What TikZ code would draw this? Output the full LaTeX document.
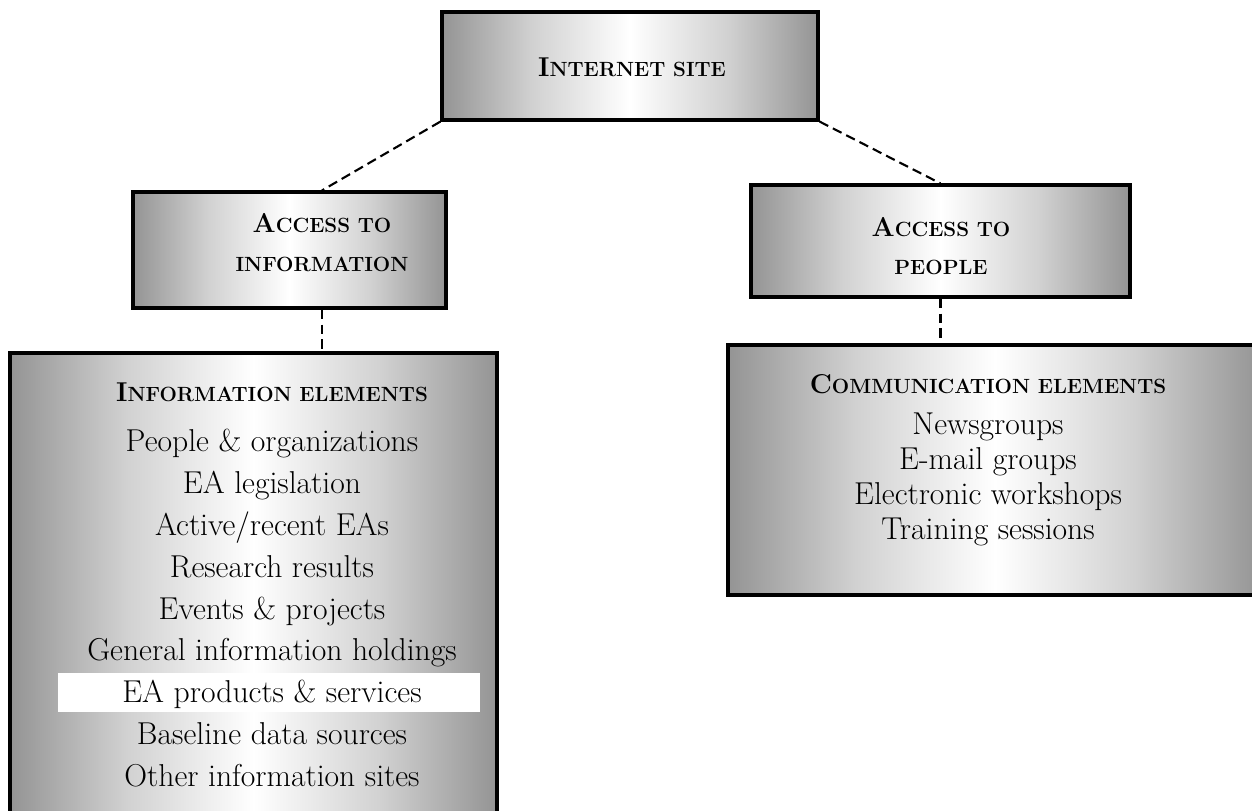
\documentclass[tikz,border=0pt]{standalone}
\usepackage{xcolor}

% grey at both sides, white in the middle
\pgfdeclarehorizontalshading{boxshade}{100bp}{color(0bp)=(black!42); color(25bp)=(black!42); color(37bp)=(black!18); color(50bp)=(white); color(63bp)=(black!18); color(75bp)=(black!42); color(100bp)=(black!42)}

% bold caps with a taller first letter
\newcommand{\capsc}[2]{{\bfseries\fontsize{15.5}{16}\selectfont #1}{\bfseries\fontsize{11.7}{16}\selectfont #2}}

\begin{document}
\begin{tikzpicture}[
  box/.style={draw=black, line width=1.8pt, shading=boxshade, inner sep=0pt},
  link/.style={dashed, dash pattern=on 5.5pt off 3pt, line width=1.2pt},
  head/.style={align=center, font=\fontsize{14}{22}\selectfont},
  items/.style={align=center, font=\fontsize{18}{23.8}\selectfont}
]
\useasboundingbox (0,0) rectangle (25.04,-16.2);

% boxes
\node [box, minimum width=7.52cm, minimum height=2.16cm] (site) at (12.6,-1.32) {};
\node [box, minimum width=6.26cm, minimum height=2.32cm] (accinfo) at (5.79,-5.0) {};
\node [box, minimum width=7.58cm, minimum height=2.24cm] (accpeople) at (18.81,-4.82) {};
\node [box, minimum width=9.74cm, minimum height=9.54cm] (infoel) at (5.07,-11.83) {};
\node [box, minimum width=10.68cm, minimum height=5.0cm] (commel) at (19.9,-9.4) {};

% light strip across the info box
\fill [white] (1.16,-13.46) rectangle (9.6,-14.24);

% box texts
\node [head] (site-t) at (12.64,-1.34) {\capsc{I}{NTERNET SITE}};
\node [head] (accinfo-t) at (6.44,-4.85) {\capsc{A}{CCESS TO}\\\capsc{}{INFORMATION}};
\node [head] (accpeople-t) at (18.82,-4.92) {\capsc{A}{CCESS TO}\\\capsc{}{PEOPLE}};
\node [items] (infoel-t) at (5.44,-11.7) {\capsc{I}{NFORMATION ELEMENTS}\\[4.6pt]
  People \& organizations\\
  EA legislation\\
  Active/recent EAs\\
  Research results\\
  Events \& projects\\
  General information holdings\\
  EA products \& services\\
  Baseline data sources\\
  Other information sites};
\node [items, font=\fontsize{18}{19.85}\selectfont] (commel-t) at (19.76,-9.2) {\capsc{C}{OMMUNICATION ELEMENTS}\\[4pt]
  Newsgroups\\
  E-mail groups\\
  Electronic workshops\\
  Training sessions};

% dashed links
\draw [link] (site.south west) -- (accinfo.north -| accinfo-t);
\draw [link] (site.south east) -- (accpeople.north);
\draw [link] (accinfo.south -| accinfo-t) -- (infoel.north -| accinfo-t);
\draw [link] (accpeople.south) -- (commel.north -| accpeople);
\end{tikzpicture}
\end{document}
